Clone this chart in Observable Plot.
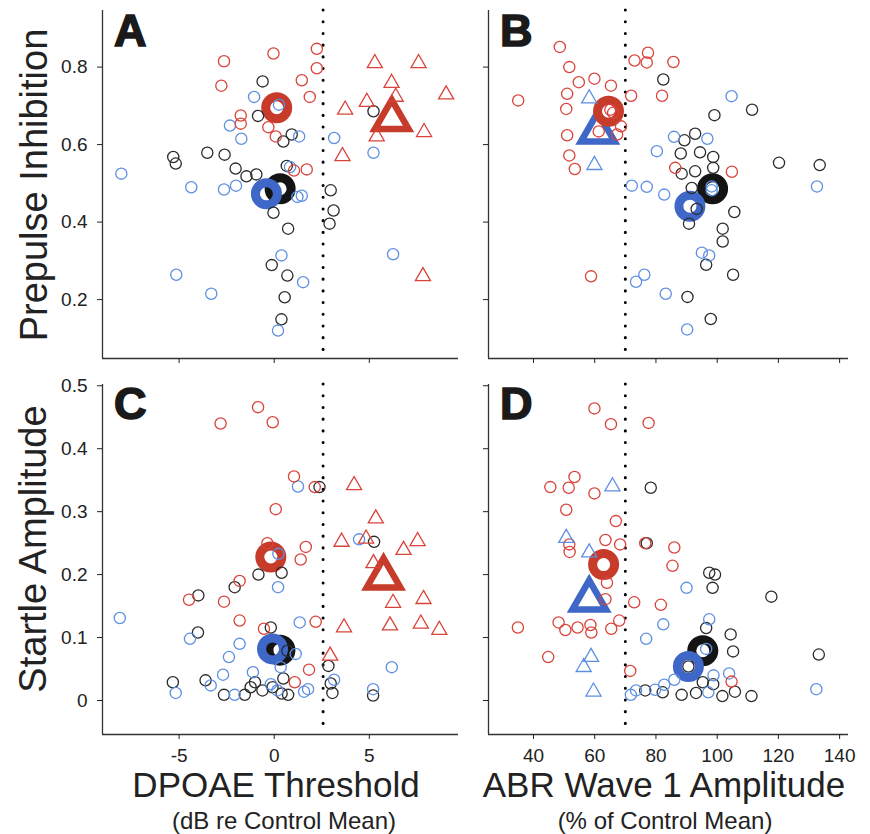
<!DOCTYPE html>
<html><head><meta charset="utf-8">
<script src="https://cdn.jsdelivr.net/npm/d3@7"></script>
<script src="https://cdn.jsdelivr.net/npm/@observablehq/plot@0.6"></script>
<style>
body{margin:0;background:#fff;}
#root{position:relative;width:870px;height:834px;background:#fff;font-family:Arial,"Liberation Sans",sans-serif;}
#root svg{position:absolute;overflow:visible;}
</style></head><body><div id="root"></div>
<script>
// ---------- Panel A: DPOAE threshold vs Prepulse inhibition ----------
const A_red = [[-2.64,0.815],[-0.04,0.835],[2.24,0.847],[2.24,0.797],[-2.78,0.752],[1.45,0.766],[1.87,0.723],[-1.76,0.675],[-1.76,0.654],[-0.31,0.645],[0.08,0.621],[1.04,0.533],[1.71,0.536]];
const A_black = [[-0.61,0.763],[-0.85,0.674],[5.22,0.686],[0.92,0.626],[0.48,0.608],[-5.31,0.568],[-5.18,0.551],[-3.52,0.579],[-2.61,0.574],[-2.03,0.538],[-1.46,0.518],[-0.94,0.523],[0.66,0.545],[-0.04,0.424],[0.73,0.383],[2.97,0.482],[3.12,0.430],[2.91,0.396],[-0.13,0.289],[0.69,0.262],[0.55,0.206],[0.38,0.149]];
const A_blue = [[-1.06,0.723],[0.25,0.703],[-2.33,0.649],[-1.73,0.615],[1.31,0.621],[3.15,0.617],[5.22,0.579],[-8.04,0.525],[0.83,0.542],[-4.36,0.490],[-2.64,0.484],[-2.01,0.494],[1.22,0.465],[1.45,0.468],[0.38,0.314],[-5.15,0.264],[-3.31,0.215],[1.52,0.245],[0.2,0.120],[6.25,0.317]];
const A_redTri = [[5.29,0.810],[7.59,0.810],[6.17,0.759],[9.04,0.729],[6.39,0.723],[4.87,0.710],[3.73,0.690],[7.88,0.632],[5.39,0.621],[3.59,0.570],[7.82,0.260]];
const A_blueTri = [];
const A_means = {black:[0.31,0.486], blue:[-0.41,0.473], red:[0.13,0.695], redTri:[6.18,0.665]};

// ---------- Panel B: ABR wave 1 amplitude vs Prepulse inhibition ----------
const B_red = [[48.6,0.852],[51.7,0.800],[54.8,0.761],[59.9,0.770],[65.3,0.752],[51.0,0.731],[35.0,0.714],[71.9,0.726],[82.0,0.726],[50.7,0.692],[73.0,0.817],[77.4,0.837],[77.0,0.812],[85.7,0.813],[65.1,0.690],[66.0,0.682],[68.6,0.647],[67.3,0.626],[61.3,0.634],[51.0,0.624],[51.7,0.572],[53.5,0.537],[86.3,0.540],[104.8,0.530],[58.8,0.260]];
const B_black = [[82.4,0.768],[99.1,0.676],[111.4,0.690],[92.8,0.628],[89.3,0.611],[88.1,0.577],[94.4,0.580],[98.7,0.568],[98.7,0.540],[92.8,0.531],[88.4,0.525],[120.2,0.553],[133.5,0.547],[91.7,0.488],[93.3,0.434],[105.6,0.426],[90.8,0.396],[101.8,0.383],[101.8,0.350],[96.4,0.290],[105.2,0.264],[90.3,0.207],[97.9,0.150]];
const B_blue = [[104.7,0.725],[85.9,0.620],[96.8,0.615],[80.3,0.583],[72.1,0.494],[77.0,0.491],[82.7,0.471],[98.2,0.492],[98.2,0.482],[132.6,0.492],[95.0,0.321],[97.4,0.314],[73.5,0.246],[76.2,0.264],[83.2,0.215],[90.2,0.123]];
const B_redTri = [];
const B_blueTri = [[58.2,0.719],[59.9,0.547]];
const B_means = {black:[98.5,0.486], blueTri:[61.0,0.633], blue:[91.1,0.441], red:[64.5,0.686]};

// ---------- Panel C: DPOAE threshold vs Startle amplitude ----------
const C_red = [[-2.82,0.440],[-0.85,0.466],[-0.08,0.442],[1.04,0.356],[0.08,0.304],[2.13,0.339],[-0.36,0.250],[1.66,0.244],[1.39,0.224],[-1.82,0.190],[-4.48,0.160],[-2.64,0.157],[-1.82,0.127],[-0.54,0.114],[2.18,0.125],[1.83,0.049],[1.08,0.029]];
const C_black = [[2.38,0.339],[5.25,0.252],[-0.83,0.200],[0.39,0.203],[-2.08,0.180],[-3.99,0.167],[-4.01,0.108],[-0.18,0.116],[0.69,0.079],[2.85,0.055],[-5.33,0.029],[-3.61,0.032],[-2.64,0.009],[-1.55,0.009],[-1.24,0.021],[-1.01,0.029],[-0.62,0.016],[-0.09,0.021],[0.48,0.035],[0.39,0.011],[0.73,0.009],[2.97,0.027],[3.06,0.012],[5.2,0.008]];
const C_blue = [[1.25,0.340],[-8.12,0.131],[0.2,0.180],[0.22,0.233],[1.34,0.124],[-4.43,0.098],[-1.82,0.090],[-2.38,0.069],[1.13,0.074],[-2.69,0.041],[-1.12,0.045],[-5.18,0.012],[-3.34,0.024],[-2.08,0.009],[-0.18,0.026],[0.17,0.016],[1.57,0.014],[1.78,0.018],[3.15,0.033],[4.46,0.256],[5.2,0.018],[6.18,0.053],[0.34,0.053]];
const C_redTri = [[4.2,0.342],[5.34,0.289],[3.54,0.252],[4.83,0.257],[7.54,0.253],[6.8,0.239],[5.22,0.218],[6.25,0.155],[7.85,0.161],[3.67,0.116],[6.09,0.119],[7.71,0.122],[8.68,0.112],[2.94,0.071]];
const C_blueTri = [];
const C_means = {black:[0.3,0.080], blue:[-0.09,0.082], red:[-0.18,0.228], redTri:[5.75,0.195]};

// ---------- Panel D: ABR wave 1 amplitude vs Startle amplitude ----------
const D_red = [[59.9,0.464],[65.3,0.439],[77.6,0.441],[53.4,0.355],[45.5,0.339],[51.5,0.338],[59.9,0.329],[50.7,0.303],[66.9,0.285],[51.7,0.248],[51.8,0.236],[63.5,0.255],[68.3,0.248],[76.5,0.250],[86.0,0.243],[85.4,0.214],[64.0,0.187],[63.5,0.161],[72.9,0.156],[81.6,0.152],[34.9,0.116],[48.2,0.124],[50.4,0.112],[54.4,0.116],[58.6,0.120],[58.9,0.108],[65.4,0.114],[68.0,0.127],[44.8,0.069],[71.6,0.047],[104.7,0.030]];
const D_black = [[78.3,0.338],[77.0,0.250],[97.4,0.203],[99.3,0.200],[98.5,0.179],[117.7,0.165],[96.4,0.115],[104.4,0.105],[105.2,0.078],[133.2,0.073],[90.6,0.054],[76.5,0.016],[82.2,0.013],[88.4,0.009],[93.1,0.012],[98.7,0.026],[101.7,0.007],[105.8,0.014],[111.2,0.007],[95.3,0.029]];
const D_blue = [[90.0,0.179],[82.4,0.121],[97.4,0.129],[76.8,0.098],[96.4,0.082],[103.9,0.043],[98.8,0.040],[71.8,0.009],[73.5,0.016],[79.7,0.017],[82.7,0.025],[86.0,0.033],[97.1,0.013],[132.4,0.018]];
const D_redTri = [];
const D_blueTri = [[65.8,0.340],[50.7,0.258],[58.2,0.235],[58.8,0.069],[56.4,0.053],[59.6,0.014]];
const D_means = {black:[95.3,0.079], blueTri:[58.2,0.160], blue:[90.6,0.054], red:[62.9,0.216]};

// ---------- Axes ----------
const dpoaeTicks = [-5, 0, 5];
const abrTicks = [40, 60, 80, 100, 120, 140];
const ppiTicks = [0.2, 0.4, 0.6, 0.8];
const startleTicks = [0, 0.1, 0.2, 0.3, 0.4, 0.5];
const dpoaeCut = 2.57;
const abrCut = 70;
const letters = ["A", "B", "C", "D"];
const xTitles = ["DPOAE Threshold", "ABR Wave 1 Amplitude"];
const xSubtitles = ["(dB re Control Mean)", "(% of Control Mean)"];
const yTitles = ["Prepulse Inhibition", "Startle Amplitude"];

const COL = {red:"#d9433a", blue:"#5d8fe3", black:"#2b2b2b", redM:"#c73b2b", blueM:"#3e67c8", blackM:"#141414"};

function panel(cfg) {
  const {small, means, xDomain, yDomain, xTicks, yTicks, showX, showY, cut, left, top, width, height, m} = cfg;
  const fx = d => d[0], fy = d => d[1];
  const marks = [
    Plot.ruleX([cut], {stroke:"#000", strokeWidth:3, strokeDasharray:"0.1 11.6", strokeLinecap:"round"}),
    Plot.ruleX([xDomain[0]], {stroke:"#333", strokeWidth:1.3}),
    Plot.ruleY([yDomain[0]], {stroke:"#333", strokeWidth:1.3}),
    Plot.axisX({ticks:xTicks, tickSize:5, tickPadding:9, label:null, fontSize:19,
      tickFormat: showX ? (d => String(d)) : (() => "")}),
    Plot.axisY({ticks:yTicks, tickSize:5, tickPadding:10, label:null, fontSize:19,
      tickFormat: showY ? (d => d === 0 ? "0" : d.toFixed(1)) : (() => "")})
  ];
  const meanOrder = [["black","circle",COL.blackM],["blueTri","triangle",COL.blueM],["blue","circle",COL.blueM],["red","circle",COL.redM],["redTri","triangle",COL.redM]];
  for (const [k, sym, c] of meanOrder) {
    if (!means[k]) continue;
    const tri = sym === "triangle";
    marks.push(Plot.dot([means[k]], {x:fx, y:fy, symbol:sym, r: tri ? 12.5 : 11, stroke:c, fill:"none", strokeWidth: tri ? 6.5 : 9}));
  }
  const smallOrder = [["black","circle",COL.black],["blue","circle",COL.blue],["red","circle",COL.red],["redTri","triangle",COL.red],["blueTri","triangle",COL.blue]];
  for (const [k, sym, c] of smallOrder) {
    marks.push(Plot.dot(small[k], {x:fx, y:fy, symbol:sym, r:5.6, stroke:c, fill:"none", strokeWidth:1.3}));
  }
  const svg = Plot.plot({
    width, height,
    marginLeft:m[0], marginTop:m[1], marginRight:m[2], marginBottom:m[3],
    x:{domain:xDomain}, y:{domain:yDomain},
    style:{fontFamily:"Arial, 'Liberation Sans', sans-serif", color:"#222", background:"transparent"},
    marks
  });
  svg.style.left = left + "px";
  svg.style.top = top + "px";
  document.getElementById("root").appendChild(svg);
}

const xA = [-9.03, 9.69], xB = [25.3, 142.9];
const yTop = [0.048, 0.946], yBot = [-0.054, 0.502];

panel({small:{red:A_red, black:A_black, blue:A_blue, redTri:A_redTri, blueTri:A_blueTri}, means:A_means,
  xDomain:xA, yDomain:yTop, xTicks:dpoaeTicks, yTicks:ppiTicks, showX:false, showY:true, cut:dpoaeCut,
  left:0, top:0, width:470, height:372, m:[102,10,12,14]});
panel({small:{red:B_red, black:B_black, blue:B_blue, redTri:B_redTri, blueTri:B_blueTri}, means:B_means,
  xDomain:xB, yDomain:yTop, xTicks:abrTicks, yTicks:ppiTicks, showX:false, showY:false, cut:abrCut,
  left:470, top:0, width:400, height:372, m:[18,10,22,14]});
panel({small:{red:C_red, black:C_black, blue:C_blue, redTri:C_redTri, blueTri:C_blueTri}, means:C_means,
  xDomain:xA, yDomain:yBot, xTicks:dpoaeTicks, yTicks:startleTicks, showX:true, showY:true, cut:dpoaeCut,
  left:0, top:372, width:470, height:398, m:[102,12,12,36]});
panel({small:{red:D_red, black:D_black, blue:D_blue, redTri:D_redTri, blueTri:D_blueTri}, means:D_means,
  xDomain:xB, yDomain:yBot, xTicks:abrTicks, yTicks:startleTicks, showX:true, showY:false, cut:abrCut,
  left:470, top:372, width:400, height:398, m:[18,12,22,36]});

// ---------- Titles & panel letters ----------
const ns = "http://www.w3.org/2000/svg";
const ov = document.createElementNS(ns, "svg");
ov.setAttribute("width", 870); ov.setAttribute("height", 834);
ov.style.left = "0px"; ov.style.top = "0px"; ov.style.pointerEvents = "none";
function txt(s, x, y, size, opts = {}) {
  const t = document.createElementNS(ns, "text");
  t.textContent = s;
  t.setAttribute("x", x); t.setAttribute("y", y);
  t.setAttribute("font-size", size);
  t.setAttribute("font-family", "Arial, 'Liberation Sans', sans-serif");
  t.setAttribute("fill", opts.fill || "#222");
  if (opts.anchor) t.setAttribute("text-anchor", opts.anchor);
  if (opts.weight) t.setAttribute("font-weight", opts.weight);
  if (opts.stroke) { t.setAttribute("stroke", opts.stroke); t.setAttribute("stroke-width", opts.sw); }
  if (opts.transform) t.setAttribute("transform", opts.transform);
  ov.appendChild(t);
}
const letterPos = [[114,46],[500,46],[114,419],[500,419]];
letters.forEach((L, i) => txt(L, letterPos[i][0], letterPos[i][1], 45, {weight:"bold", fill:"#1a1a1a", stroke:"#1a1a1a", sw:1.6}));
txt(xTitles[0], 276, 797, 35, {anchor:"middle"});
txt(xTitles[1], 664, 797, 35, {anchor:"middle"});
txt(xSubtitles[0], 284, 829, 24, {anchor:"middle"});
txt(xSubtitles[1], 665, 829, 24, {anchor:"middle"});
txt(yTitles[0], 0, 0, 38, {anchor:"middle", transform:"translate(47,185) rotate(-90)"});
txt(yTitles[1], 0, 0, 38, {anchor:"middle", transform:"translate(46,549) rotate(-90)"});
document.getElementById("root").appendChild(ov);
</script></body></html>
